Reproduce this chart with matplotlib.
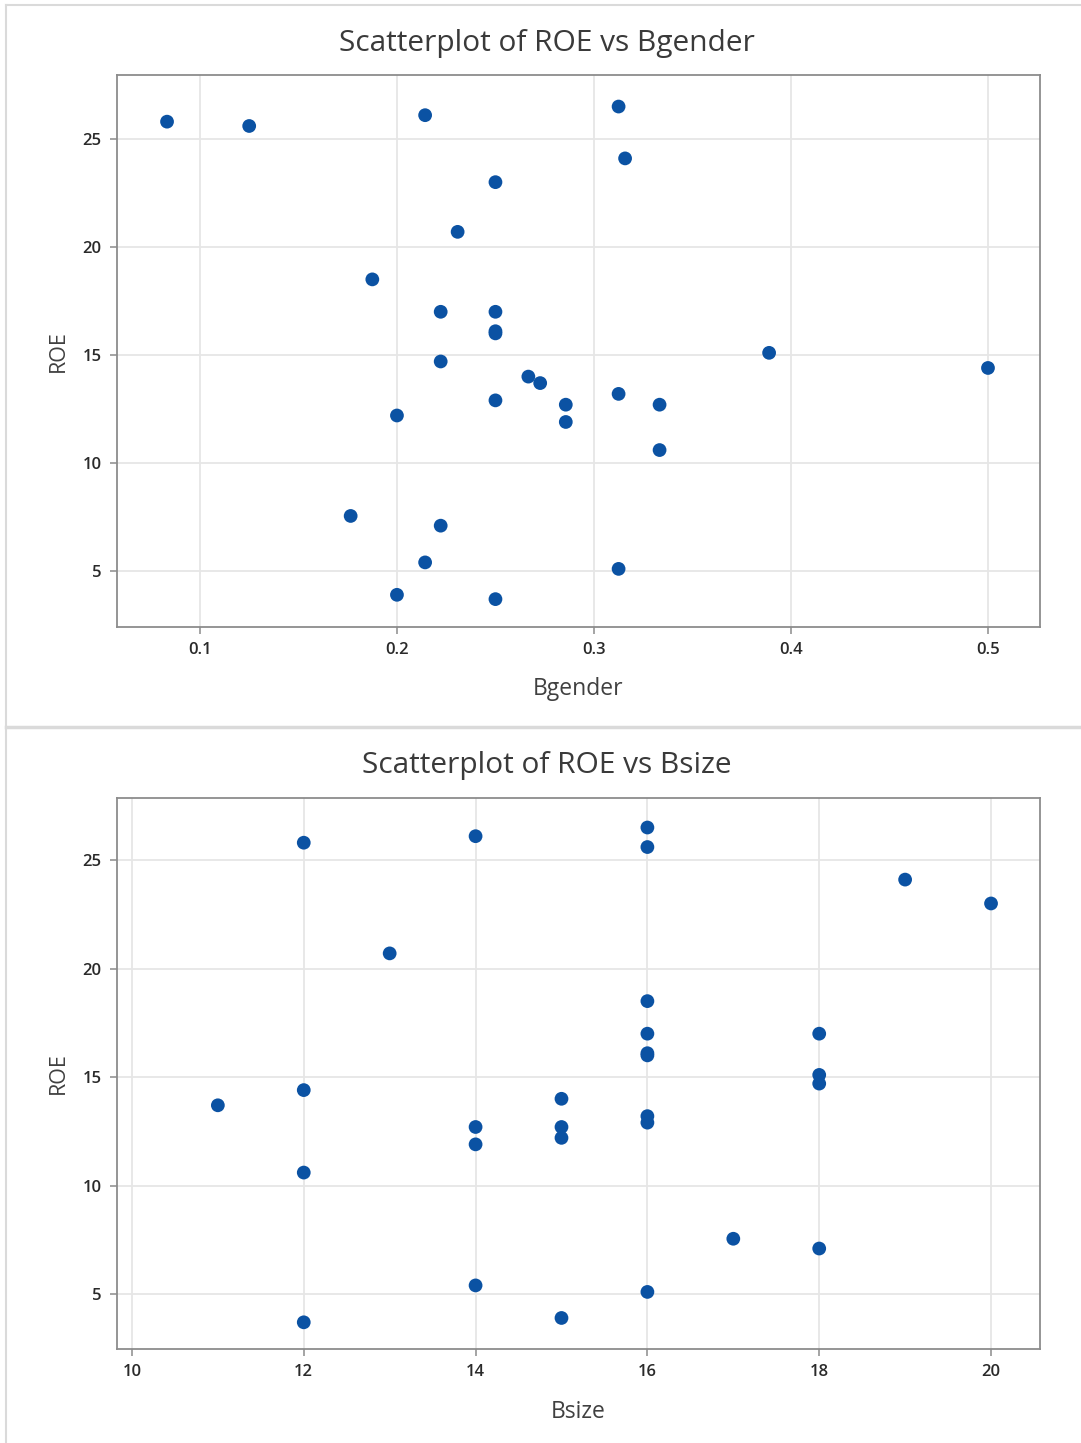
import matplotlib
matplotlib.use("Agg")
from matplotlib import pyplot as plt
from matplotlib.lines import Line2D

# values
roe = [25.8, 25.6, 26.1, 26.5, 24.1, 23.0, 20.7, 18.5, 17.0, 17.0,
       16.1, 16.0, 14.7, 15.1, 14.4, 14.0, 13.7, 12.9, 13.2, 12.7,
       12.7, 11.9, 12.2, 10.6, 7.55, 7.1, 5.4, 5.1, 3.9, 3.7]
bgender = [0.0833, 0.125, 0.2143, 0.3125, 0.3158, 0.25, 0.2308, 0.1875, 0.2222, 0.25,
           0.25, 0.25, 0.2222, 0.3889, 0.5, 0.2667, 0.2727, 0.25, 0.3125, 0.2857,
           0.3333, 0.2857, 0.2, 0.3333, 0.1765, 0.2222, 0.2143, 0.3125, 0.2, 0.25]
bsize = [12, 16, 14, 16, 19, 20, 13, 16, 18, 16,
         16, 16, 18, 18, 12, 15, 11, 16, 16, 14,
         15, 14, 15, 12, 17, 18, 14, 16, 15, 12]

xticks_top = [0.1, 0.2, 0.3, 0.4, 0.5]
xticks_bot = [10, 12, 14, 16, 18, 20]
yticks = [5, 10, 15, 20, 25]

W, H = 1081, 1443
FONT = ["Open Sans", "DejaVu Sans"]
plt.rcParams['font.family'] = FONT

fig = plt.figure(figsize=(W / 100, H / 100), dpi=100)
fig.patch.set_facecolor("white")

blue = "#0b52a3"
frame = "#8c8c8c"
grid = "#e6e6e6"
txt = "#2a2a2a"


def panel(rect, x, title, xlabel, xlim, ylim, xticks, title_y, xlabel_y, xticklabels):
    ax = fig.add_axes(rect)
    ax.scatter(x, roe, s=98, color=blue, edgecolors="none", zorder=3)
    ax.set_xlim(*xlim)
    ax.set_ylim(*ylim)
    ax.set_xticks(xticks)
    ax.set_xticklabels(xticklabels)
    ax.set_yticks(yticks)
    ax.grid(True, color=grid, linewidth=1.3, zorder=0)
    for s in ax.spines.values():
        s.set_color(frame)
        s.set_linewidth(1.3)
    ax.tick_params(colors=frame, labelcolor=txt, labelsize=12, length=5, width=1.1, pad=6)
    for lab in ax.get_xticklabels() + ax.get_yticklabels():
        lab.set_fontweight("semibold")
    ax.set_ylabel("ROE", fontsize=15.5, color="#404040", labelpad=10)
    ax.set_axisbelow(True)
    fig.text(547 / W, 1 - title_y / H, title, fontsize=21.5, color="#3a3a3a",
             ha="center", va="center", fontweight="medium")
    fig.text(578 / W, 1 - xlabel_y / H, xlabel, fontsize=16.5, color="#404040",
             ha="center", va="center")
    return ax


left = 117 / W
width = (1040 - 117) / W

panel([left, 1 - 627 / H, width, (627 - 75) / H], bgender,
      "Scatterplot of ROE vs Bgender", "Bgender",
      (0.0579, 0.5264), (2.41, 27.96), xticks_top, 44, 689,
      ["0.1", "0.2", "0.3", "0.4", "0.5"])

panel([left, 1 - 1349 / H, width, (1349 - 798) / H], bsize,
      "Scatterplot of ROE vs Bsize", "Bsize",
      (9.826, 20.57), (2.47, 27.86), xticks_bot, 766, 1412,
      [str(t) for t in xticks_bot])

# window borders like the source screenshot
border = "#dadada"
fig.add_artist(Line2D([6 / W, 1], [1 - 5 / H, 1 - 5 / H], color=border, lw=1.5))
fig.add_artist(Line2D([6 / W, 6 / W], [0, 1 - 5 / H], color=border, lw=1.5))
fig.add_artist(Line2D([6 / W, 1], [1 - 727 / H, 1 - 727 / H], color=border, lw=2.5))

fig.savefig("out.png", dpi=100)
